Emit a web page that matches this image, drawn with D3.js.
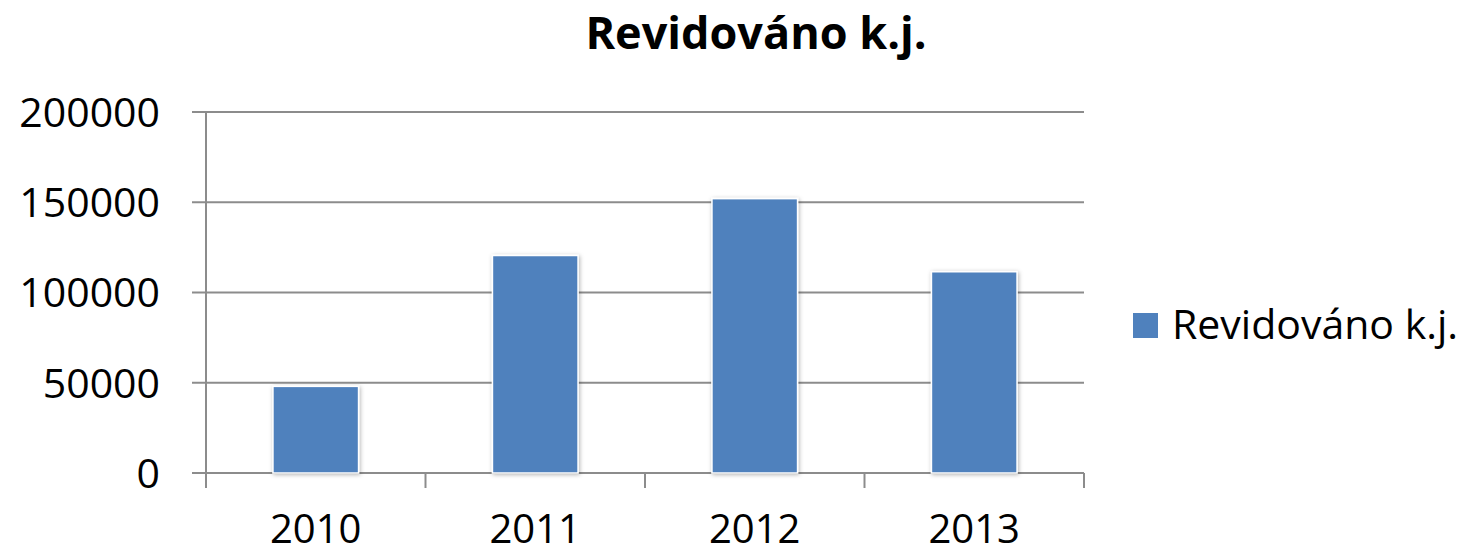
<!DOCTYPE html>
<html>
<head>
<meta charset="utf-8">
<script src="https://cdn.jsdelivr.net/npm/d3@7"></script>
<style>
  body { margin: 0; background: #fff; }
  svg { display: block; font-family: "Open Sans", sans-serif; }
</style>
</head>
<body>
<div id="chart"></div>
<script>
const years = ["2010", "2011", "2012", "2013"];
const values = [48000, 120500, 152000, 111500];
const yTicks = [0, 50000, 100000, 150000, 200000];
const seriesName = "Revidováno k.j.";

const width = 1474, height = 555;
const plot = { left: 206, right: 1084, top: 112, bottom: 473 };
const barColor = "#4F81BD", gridColor = "#8c8c8c";

const svg = d3.select("#chart").append("svg")
    .attr("width", width).attr("height", height);

// ombre légère sous les barres
const defs = svg.append("defs");
const f = defs.append("filter").attr("id", "shadow")
    .attr("x", "-20%").attr("y", "-20%").attr("width", "140%").attr("height", "140%");
f.append("feDropShadow").attr("dx", 1).attr("dy", 1).attr("stdDeviation", 2)
    .attr("flood-color", "#000").attr("flood-opacity", 0.3);

const x = d3.scaleBand().domain(years)
    .range([plot.left, plot.right])
    .paddingInner(0.61).paddingOuter(0.305);
const y = d3.scaleLinear().domain([0, 200000]).range([plot.bottom, plot.top]);

// grille horizontale
svg.append("g").selectAll("line")
    .data(yTicks)
    .join("line")
    .attr("x1", plot.left - 14).attr("x2", plot.right)
    .attr("y1", d => y(d)).attr("y2", d => y(d))
    .attr("stroke", gridColor).attr("stroke-width", 2);

// axe Y
svg.append("line")
    .attr("x1", plot.left).attr("x2", plot.left)
    .attr("y1", plot.top).attr("y2", plot.bottom + 15)
    .attr("stroke", gridColor).attr("stroke-width", 2);

svg.append("g").selectAll("text")
    .data(yTicks)
    .join("text")
    .attr("x", 160).attr("y", d => y(d))
    .attr("dy", "0.36em")
    .attr("text-anchor", "end")
    .attr("font-size", 41)
    .attr("fill", "#000")
    .text(d => d);

// ticks de l'axe X (entre les catégories)
const xBounds = years.map(d => x(d) - x.step() * x.paddingOuter()).concat([plot.right]);
svg.append("g").selectAll("line")
    .data(xBounds)
    .join("line")
    .attr("x1", d => d).attr("x2", d => d)
    .attr("y1", plot.bottom).attr("y2", plot.bottom + 15)
    .attr("stroke", gridColor).attr("stroke-width", 2);

svg.append("g").selectAll("text")
    .data(years)
    .join("text")
    .attr("x", d => x(d) + x.bandwidth() / 2)
    .attr("y", 543)
    .attr("text-anchor", "middle")
    .attr("font-size", 40)
    .attr("fill", "#000")
    .text(d => d);

// barres
svg.append("g").selectAll("rect")
    .data(values)
    .join("rect")
    .attr("x", (d, i) => x(years[i]))
    .attr("y", d => y(d))
    .attr("width", x.bandwidth())
    .attr("height", d => plot.bottom - y(d))
    .attr("fill", barColor)
    .attr("stroke", "#ffffff").attr("stroke-width", 1.5)
    .attr("filter", "url(#shadow)");

// titre
svg.append("text")
    .attr("x", 756).attr("y", 49)
    .attr("text-anchor", "middle")
    .attr("font-size", 45).attr("font-weight", "bold")
    .attr("fill", "#000")
    .text(seriesName);

// légende
const legend = svg.append("g");
legend.append("rect")
    .attr("x", 1133).attr("y", 313).attr("width", 25).attr("height", 25)
    .attr("fill", barColor);
legend.append("text")
    .attr("x", 1172).attr("y", 339)
    .attr("font-size", 41)
    .attr("fill", "#000")
    .text(seriesName);
</script>
</body>
</html>
